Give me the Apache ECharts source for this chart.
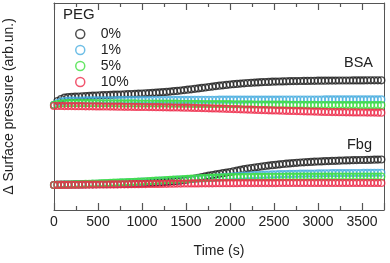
<!DOCTYPE html>
<html>
<head>
<meta charset="utf-8">
<script src="https://cdn.jsdelivr.net/npm/echarts@6/dist/echarts.min.js"></script>
<style>
html,body{margin:0;padding:0;background:#fff;}
#chart{width:390px;height:263px;}
</style>
</head>
<body>
<div id="chart"></div>
<script>
const times = [0,40,80,120,160,200,240,280,320,360,
400,440,480,520,560,600,640,680,720,760,
800,840,880,920,960,1000,1040,1080,1120,1160,
1200,1240,1280,1320,1360,1400,1440,1480,1520,1560,
1600,1640,1680,1720,1760,1800,1840,1880,1920,1960,
2000,2040,2080,2120,2160,2200,2240,2280,2320,2360,
2400,2440,2480,2520,2560,2600,2640,2680,2720,2760,
2800,2840,2880,2920,2960,3000,3040,3080,3120,3160,
3200,3240,3280,3320,3360,3400,3440,3480,3520,3560,
3600,3640,3680,3720];

const pegNames = ['0%','1%','5%','10%'];
const groupLabels = ['BSA','Fbg'];
const xTickLabels = [0,500,1000,1500,2000,2500,3000,3500];

const bsa0 = [105,109,111,112.3,112.8,113.1,113.3,113.5,113.7,113.9,
114.1,114.3,114.5,114.7,114.8,115.0,115.1,115.3,115.4,115.5,
115.7,115.8,116.0,116.1,116.3,116.5,116.7,116.9,117.1,117.3,
117.6,117.8,118.1,118.4,118.8,119.1,119.5,119.9,120.3,120.7,
121.2,121.6,122.1,122.5,123.0,123.4,123.9,124.3,124.7,125.1,
125.5,125.8,126.1,126.4,126.7,127.0,127.2,127.4,127.6,127.8,
128.0,128.1,128.3,128.4,128.5,128.6,128.7,128.8,128.9,128.9,
129.0,129.1,129.1,129.2,129.2,129.3,129.3,129.3,129.4,129.4,
129.4,129.5,129.5,129.5,129.5,129.6,129.6,129.6,129.6,129.7,
129.7,129.7,129.7,129.7];

const bsa1 = [105,107,108.4,109.0,109.3,109.4,109.5,109.5,109.5,109.6,
109.6,109.6,109.6,109.7,109.7,109.7,109.7,109.7,109.8,109.8,
109.8,109.8,109.8,109.9,109.9,109.9,109.9,109.9,110.0,110.0,
110.0,110.0,110.0,110.0,110.1,110.1,110.1,110.1,110.1,110.1,
110.2,110.2,110.2,110.2,110.2,110.2,110.2,110.3,110.3,110.3,
110.3,110.3,110.3,110.3,110.3,110.4,110.4,110.4,110.4,110.4,
110.4,110.4,110.4,110.4,110.4,110.5,110.5,110.5,110.5,110.5,
110.5,110.5,110.5,110.5,110.5,110.5,110.5,110.6,110.6,110.6,
110.6,110.6,110.6,110.6,110.6,110.6,110.6,110.6,110.6,110.6,
110.6,110.6,110.6,110.6];

const bsa5 = [105,106,106.5,106.7,106.8,106.8,106.8,106.8,106.8,106.8,
106.8,106.8,106.7,106.7,106.7,106.7,106.7,106.7,106.6,106.6,
106.6,106.6,106.6,106.6,106.5,106.5,106.5,106.5,106.5,106.4,
106.4,106.4,106.4,106.3,106.3,106.3,106.2,106.2,106.2,106.1,
106.1,106.1,106.0,106.0,106.0,105.9,105.9,105.9,105.8,105.8,
105.8,105.7,105.7,105.7,105.6,105.6,105.6,105.5,105.5,105.5,
105.4,105.4,105.4,105.3,105.3,105.3,105.3,105.2,105.2,105.2,
105.2,105.1,105.1,105.1,105.1,105.0,105.0,105.0,105.0,105.0,
104.9,104.9,104.9,104.9,104.9,104.9,104.8,104.8,104.8,104.8,
104.8,104.8,104.8,104.8];

const bsa10 = [104.0,104.0,104.0,103.9,103.9,103.9,103.8,103.8,103.8,103.7,
103.7,103.7,103.6,103.6,103.5,103.5,103.4,103.4,103.3,103.3,
103.2,103.2,103.2,103.1,103.1,103.0,103.0,102.9,102.9,102.8,
102.8,102.7,102.7,102.6,102.5,102.5,102.4,102.3,102.3,102.2,
102.1,102.0,101.9,101.8,101.7,101.6,101.5,101.4,101.3,101.2,
101.0,100.9,100.8,100.7,100.5,100.4,100.3,100.2,100.0,99.9,
99.8,99.7,99.6,99.5,99.4,99.3,99.2,99.1,99.0,98.9,
98.8,98.7,98.6,98.5,98.4,98.3,98.2,98.1,98.0,97.9,
97.9,97.8,97.8,97.7,97.7,97.6,97.6,97.5,97.5,97.4,
97.4,97.4,97.3,97.3];

const fbg0 = [25.0,25.3,25.4,25.5,25.5,25.5,25.6,25.6,25.6,25.7,
25.7,25.7,25.8,25.8,25.8,25.8,25.9,25.9,25.9,26.0,
26.0,26.1,26.2,26.3,26.4,26.5,26.7,26.9,27.1,27.3,
27.5,27.8,28.1,28.4,28.7,29.0,29.4,29.9,30.4,30.9,
31.5,32.2,32.9,33.6,34.3,35.0,35.6,36.2,36.8,37.4,
38.0,38.7,39.4,40.1,40.8,41.5,42.0,42.5,43.0,43.5,
44.0,44.4,44.8,45.2,45.6,46.0,46.3,46.6,46.9,47.2,
47.5,47.7,47.9,48.1,48.3,48.5,48.6,48.8,48.9,49.1,
49.2,49.3,49.5,49.6,49.7,49.8,49.9,50.0,50.0,50.1,
50.2,50.3,50.4,50.5];

const fbg1 = [25.0,25.1,25.2,25.3,25.4,25.5,25.6,25.7,25.8,25.9,
26.0,26.1,26.2,26.4,26.5,26.7,26.8,27.0,27.1,27.3,
27.4,27.6,27.8,28.0,28.1,28.3,28.5,28.7,28.9,29.1,
29.3,29.5,29.7,29.9,30.1,30.3,30.5,30.7,30.9,31.0,
31.2,31.4,31.5,31.7,31.9,32.0,32.3,32.6,32.9,33.2,
33.5,33.7,33.9,34.1,34.3,34.5,34.7,34.9,35.0,35.2,
35.3,35.5,35.6,35.7,35.8,35.9,36.0,36.1,36.1,36.2,
36.3,36.3,36.4,36.4,36.5,36.6,36.6,36.7,36.7,36.8,
36.8,36.8,36.9,36.9,36.9,37.0,37.0,37.0,37.1,37.1,
37.1,37.2,37.2,37.2];

const fbg5 = [25.0,25.1,25.2,25.4,25.5,25.6,25.7,25.9,26.0,26.1,
26.2,26.4,26.5,26.6,26.8,27.0,27.1,27.3,27.4,27.6,
27.7,27.9,28.0,28.2,28.4,28.5,28.7,28.9,29.1,29.3,
29.5,29.7,29.9,30.1,30.3,30.5,30.7,30.9,31.1,31.3,
31.5,31.7,31.9,32.0,32.2,32.3,32.4,32.5,32.6,32.7,
32.8,32.8,32.9,32.9,33.0,33.0,33.0,33.1,33.1,33.1,
33.1,33.2,33.2,33.2,33.2,33.2,33.3,33.3,33.3,33.3,
33.3,33.3,33.4,33.4,33.4,33.4,33.4,33.4,33.4,33.4,
33.5,33.5,33.5,33.5,33.5,33.5,33.5,33.5,33.5,33.5,
33.5,33.5,33.5,33.5];

const fbg10 = [25.0,25.0,25.1,25.1,25.1,25.2,25.2,25.2,25.3,25.3,
25.4,25.4,25.4,25.5,25.5,25.5,25.6,25.6,25.6,25.7,
25.7,25.7,25.8,25.8,25.8,25.9,25.9,26.0,26.0,26.1,
26.1,26.2,26.2,26.3,26.3,26.4,26.4,26.5,26.5,26.6,
26.6,26.6,26.7,26.7,26.7,26.7,26.8,26.8,26.8,26.8,
26.8,26.8,26.8,26.9,26.9,26.9,26.9,26.9,26.9,26.9,
26.9,26.9,26.9,26.9,27.0,27.0,27.0,27.0,27.0,27.0,
27.0,27.0,27.0,27.0,27.0,27.0,27.0,27.0,27.0,27.0,
27.0,27.0,27.0,27.0,27.0,27.0,27.0,27.0,27.0,27.0,
27.0,27.0,27.0,27.0];

const colors = ['#222222','#4aaee0','#3fe03f','#ee2a4a'];
const FONT = '"Liberation Sans", Arial, sans-serif';

function pairs(vals){ return times.map((t,i)=>[t, vals[i]]); }
function mk(name, vals, ci){
  return {
    name: name, type: 'scatter', data: pairs(vals),
    symbol: 'circle', symbolSize: 6.8,
    itemStyle: { color: 'rgba(255,255,255,0)', borderColor: colors[ci], borderWidth: 1.4 },
    emphasis: { disabled: true }, silent: true
  };
}

const chart = echarts.init(document.getElementById('chart'), null, {renderer:'canvas'});
const axisCol = '#555';
const hiddenSplit = { show: true, lineStyle: { color: 'rgba(0,0,0,0)', opacity: 0 } };
const opt = {
  animation: false,
  backgroundColor: '#fff',
  grid: { left: 54, right: 6, top: 3, bottom: 53, outerBoundsMode: 'none' },
  legend: {
    data: pegNames, orient: 'vertical', left: 75, top: 26, padding: 0,
    itemWidth: 9, itemHeight: 9, itemGap: 0, icon: 'circle',
    itemStyle: { color: 'rgba(255,255,255,0)', borderWidth: 1.5 },
    textStyle: { fontFamily: FONT, fontSize: 14, color: '#222', lineHeight: 16, padding: [0,0,0,11] },
    selectedMode: false
  },
  xAxis: [{
    type: 'value', min: 0, max: 3750, interval: 500, position: 'bottom',
    name: 'Time (s)', nameLocation: 'middle', nameGap: 34,
    nameTextStyle: { fontFamily: FONT, fontSize: 14, color: '#222' },
    axisLine: { show: true, onZero: false, lineStyle: { color: axisCol } },
    axisTick: { show: true, inside: true, length: 7, lineStyle: { color: axisCol, width: 1.2 } },
    minorTick: { show: true, splitNumber: 2, length: 4, lineStyle: { color: axisCol, width: 1.2 } },
    axisLabel: { fontFamily: FONT, fontSize: 14, color: '#222', margin: 5, showMaxLabel: false,
      formatter: v => (xTickLabels.indexOf(v) >= 0 ? String(v) : '') },
    splitLine: hiddenSplit
  },{
    type: 'value', min: 0, max: 3750, interval: 500, position: 'top',
    axisLine: { show: true, onZero: false, lineStyle: { color: axisCol } },
    axisTick: { show: true, inside: true, length: 7, lineStyle: { color: axisCol, width: 1.2 } },
    minorTick: { show: true, splitNumber: 2, length: 4, lineStyle: { color: axisCol, width: 1.2 } },
    axisLabel: { show: false },
    splitLine: hiddenSplit
  }],
  yAxis: [{
    type: 'value', min: 0, max: 207, position: 'left',
    name: 'Δ Surface pressure (arb.un.)', nameLocation: 'middle', nameGap: 38,
    nameTextStyle: { fontFamily: FONT, fontSize: 14, color: '#222' },
    axisLine: { show: true, onZero: false, lineStyle: { color: axisCol } },
    axisTick: { show: false }, axisLabel: { show: false }, splitLine: { show: false }
  },{
    type: 'value', min: 0, max: 207, position: 'right',
    axisLine: { show: true, onZero: false, lineStyle: { color: axisCol } },
    axisTick: { show: false }, axisLabel: { show: false }, splitLine: { show: false }
  }],
  graphic: [
    { type: 'text', left: 63, top: 7, style: { text: 'PEG', font: '15px ' + FONT, fill: '#222' } },
    { type: 'text', left: 344, top: 55, style: { text: groupLabels[0], font: '14.5px ' + FONT, fill: '#222' } },
    { type: 'text', left: 347, top: 137, style: { text: groupLabels[1], font: '14.5px ' + FONT, fill: '#222' } }
  ],
  series: [
    mk(pegNames[0], bsa0, 0), mk(pegNames[1], bsa1, 1), mk(pegNames[2], bsa5, 2), mk(pegNames[3], bsa10, 3),
    mk(pegNames[0], fbg0, 0), mk(pegNames[1], fbg1, 1), mk(pegNames[2], fbg5, 2), mk(pegNames[3], fbg10, 3)
  ]
};
chart.setOption(opt);
</script>
</body>
</html>
